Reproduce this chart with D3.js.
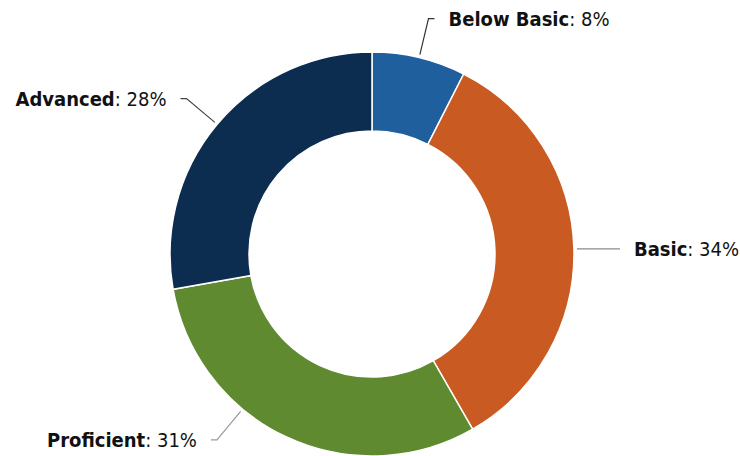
<!DOCTYPE html>
<html>
<head>
<meta charset="utf-8">
<script src="https://cdn.jsdelivr.net/npm/d3@7"></script>
<style>
  body { margin: 0; background: #fff; }
  text { font-family: "DejaVu Sans Condensed", "DejaVu Sans", sans-serif; font-size: 20px; fill: #111; }
</style>
</head>
<body>
<svg id="chart" width="740" height="456"></svg>
<script>
var levels = ['Below Basic', 'Basic', 'Proficient', 'Advanced'];
var shares = [7.5, 34.2, 30.5, 27.8];
var colors = ['#1f5f9e', '#c95a21', '#5f8a30', '#0c2c50'];

// where along each slice the leader line leaves the ring (0..1)
var leaderAt = [0.5, 0.5, 0.635, 0.5];

var width = 740, height = 456;
var cx = 372, cy = 254;
var outer = 202, inner = 123;
var elbowR = 242;

var svg = d3.select('#chart');
var g = svg.append('g').attr('transform', 'translate(' + cx + ',' + cy + ')');

var data = levels.map(function(name, i) {
    return {name: name, value: shares[i], color: colors[i], t: leaderAt[i]};
});

var pie = d3.pie()
    .sort(null)
    .value(function(d) { return d.value; });

var arc = d3.arc()
    .innerRadius(inner)
    .outerRadius(outer);

var arcs = pie(data);

g.selectAll('path.slice')
    .data(arcs)
    .enter()
    .append('path')
    .attr('class', 'slice')
    .attr('d', arc)
    .attr('fill', function(d) { return d.data.color; })
    .attr('stroke', '#fff')
    .attr('stroke-width', 1.5);

function polar(r, a) {
    return [r * Math.sin(a), -r * Math.cos(a)];
}

var lineColors = ['#333', '#8a8a8a', '#999', '#444'];

arcs.forEach(function(d, i) {
    var a = d.startAngle + (d.endAngle - d.startAngle) * d.data.t;
    var p0 = polar(outer + 3, a);
    var p1 = polar(elbowR, a);
    var side = p1[0] >= 0 ? 1 : -1;
    var p2 = [p1[0] + side * 6, p1[1]];
    if (Math.abs(p1[1]) < 8) {
        p2 = [p1[0] + side * 6, p0[1]];
        p1 = [p1[0], p0[1]];
    }

    g.append('path')
        .attr('d', d3.line()([p0, p1, p2]))
        .attr('fill', 'none')
        .attr('stroke', lineColors[i])
        .attr('stroke-width', 1.2);

    var label = g.append('text')
        .attr('x', p2[0] + side * 14)
        .attr('y', p2[1])
        .attr('dy', '0.35em')
        .attr('text-anchor', side > 0 ? 'start' : 'end');

    label.append('tspan')
        .attr('font-weight', 'bold')
        .text(d.data.name);
    label.append('tspan')
        .text(': ' + Math.round(d.data.value) + '%');
});
</script>
</body>
</html>
